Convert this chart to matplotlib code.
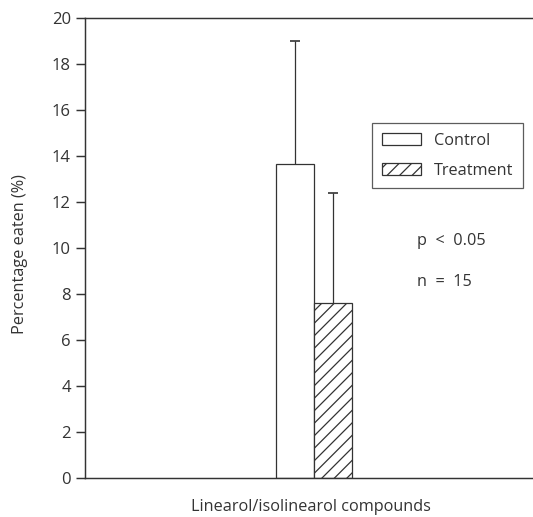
import matplotlib
matplotlib.use("Agg")
import matplotlib.pyplot as plt

categories = ["Control", "Treatment"]
means = [13.65, 7.6]
err_upper = [5.35, 4.8]
hatches = ["", "////"]
yticks = [0, 2, 4, 6, 8, 10, 12, 14, 16, 18, 20]

DPI = 150
C = "#333333"
plt.rcParams['font.family'] = ['Open Sans', 'DejaVu Sans']
plt.rcParams['hatch.linewidth'] = 0.6
plt.rcParams['hatch.color'] = C

fig = plt.figure(figsize=(533 / DPI, 517 / DPI), dpi=DPI)
ax = fig.add_axes([85 / 533, 1 - 478 / 517, 448 / 533, 460 / 517])

fs = 7.8
xs = [0, 1]
for x, m, e, h, lab in zip(xs, means, err_upper, hatches, categories):
    ax.bar(x, m, width=1.0, color="white", edgecolor=C, linewidth=0.6,
           hatch=h, label=lab, zorder=2)
    eb = ax.errorbar(x, m, yerr=[[0], [e]], fmt="none", ecolor=C, elinewidth=0.6,
                     capsize=2.4, capthick=0.8, zorder=1)
    caps = eb[1]
    if len(caps) > 1:
        caps[0].set_visible(False)

ax.set_xlim(-5.526, -5.526 + 448 / 38)
ax.set_ylim(0, 20)
ax.set_yticks(yticks)
ax.set_xticks([])
ax.spines['right'].set_visible(False)
for s in ['left', 'top', 'bottom']:
    ax.spines[s].set_color(C)
    ax.spines[s].set_linewidth(0.7)
ax.tick_params(axis='y', direction='out', length=4.3, width=0.7, color=C,
               labelcolor=C, labelsize=8, pad=2.5)

ax.set_ylabel("Percentage eaten (%)", fontsize=fs, color=C, va='center')
ax.yaxis.set_label_coords((20 - 85) / 448, (478 - 254) / 460)
ax.set_xlabel("Linearol/isolinearol compounds", fontsize=fs, color=C, va='center')
ax.xaxis.set_label_coords((311 - 85) / 448, (478 - 507) / 460)

leg = ax.legend(loc='upper left', bbox_to_anchor=((372 - 85) / 448, (478 - 123) / 460),
                fontsize=fs, frameon=True, fancybox=False, handlelength=2.4,
                handleheight=0.8, handletextpad=0.8, borderpad=0.6, labelspacing=0.85,
                borderaxespad=0)
leg.get_frame().set_edgecolor(C)
leg.get_frame().set_linewidth(0.6)
for t in leg.get_texts():
    t.set_color(C)

ax.text((417 - 85) / 448, (478 - 241) / 460, "p  <  0.05", transform=ax.transAxes,
        fontsize=fs, color=C, va='center', ha='left')
ax.text((417 - 85) / 448, (478 - 282) / 460, "n  =  15", transform=ax.transAxes,
        fontsize=fs, color=C, va='center', ha='left')

fig.savefig("out.png", dpi=DPI)
